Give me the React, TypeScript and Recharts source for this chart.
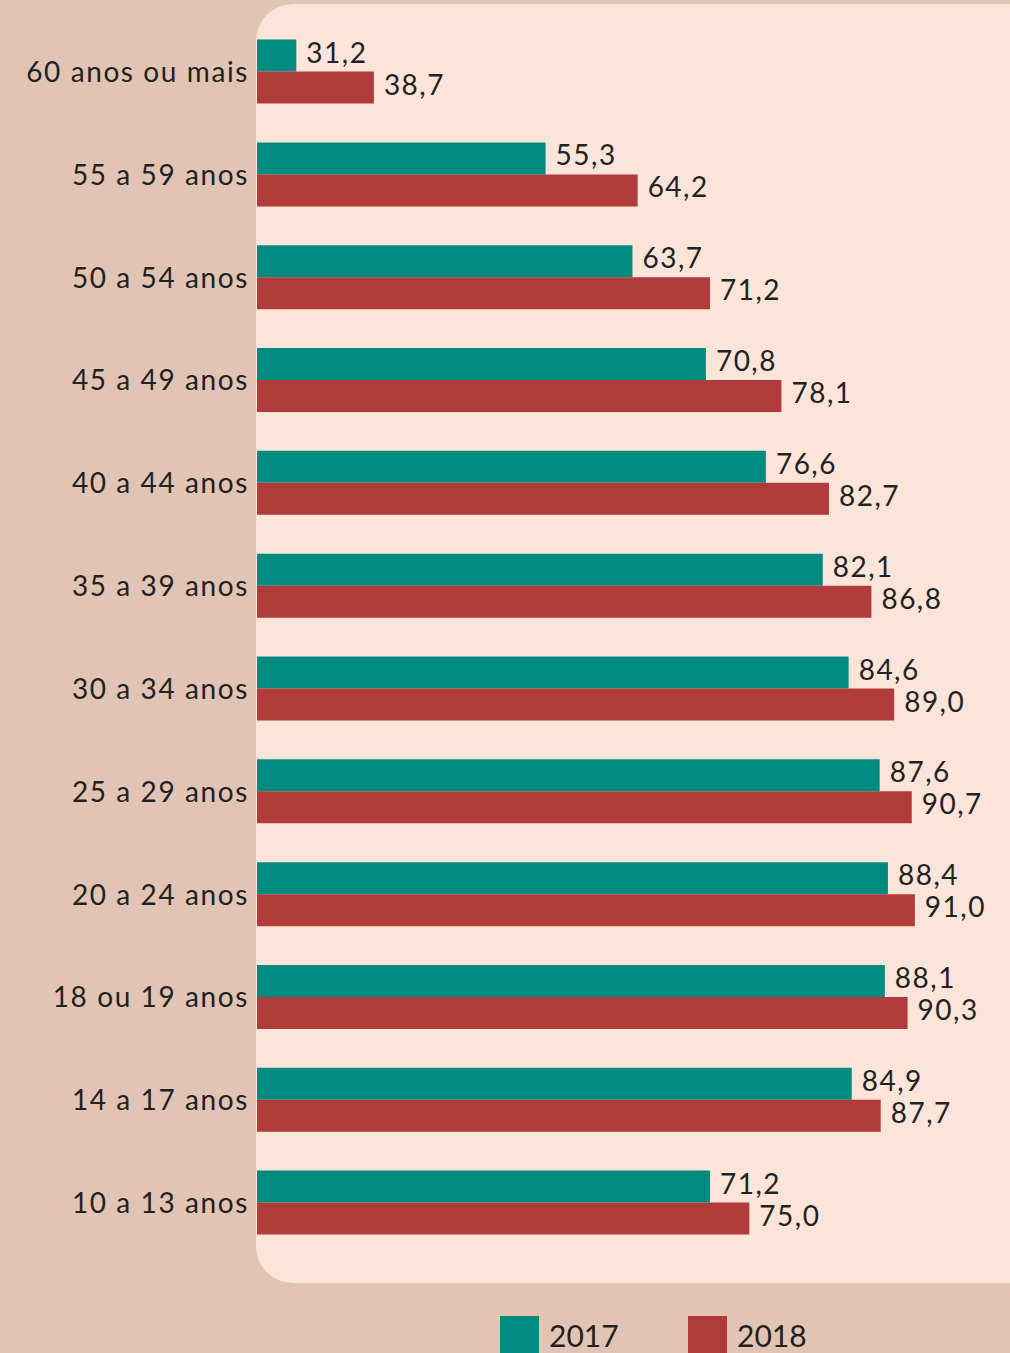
import React from "react";
import { BarChart, Bar, XAxis, YAxis, LabelList } from "recharts";

const faixas = [
  "60 anos ou mais",
  "55 a 59 anos",
  "50 a 54 anos",
  "45 a 49 anos",
  "40 a 44 anos",
  "35 a 39 anos",
  "30 a 34 anos",
  "25 a 29 anos",
  "20 a 24 anos",
  "18 ou 19 anos",
  "14 a 17 anos",
  "10 a 13 anos",
];
const valores2017 = [31.2, 55.3, 63.7, 70.8, 76.6, 82.1, 84.6, 87.6, 88.4, 88.1, 84.9, 71.2];
const valores2018 = [38.7, 64.2, 71.2, 78.1, 82.7, 86.8, 89.0, 90.7, 91.0, 90.3, 87.7, 75.0];
const anos = ["2017", "2018"];

const TEAL = "#008b80";
const RED = "#b03b3a";
const FONT = "Lato, 'Noto Sans', sans-serif";

const data = faixas.map((faixa, i) => ({
  faixa,
  a2017: valores2017[i],
  a2018: valores2018[i],
}));

const fmt = (v: number) => v.toFixed(1).replace(".", ",");

// rótulo de valor à direita da barra
function ValueLabel(props: any) {
  const { x, y, width, value } = props;
  return (
    <text
      x={Number(x) + Number(width) + 10}
      y={Number(y) + 23}
      fontSize={28}
      fontFamily={FONT}
      letterSpacing={1.5}
      fill="#222"
    >
      {fmt(Number(value))}
    </text>
  );
}

function FaixaTick(props: any) {
  const { y, payload } = props;
  return (
    <text
      x={249}
      y={y + 10}
      textAnchor="end"
      fontSize={28}
      fontFamily={FONT}
      letterSpacing={1.6}
      fill="#222"
    >
      {payload.value}
    </text>
  );
}

export default function App() {
  return (
    <div
      style={{
        position: "absolute",
        top: 0,
        left: 0,
        width: 1010,
        height: 1353,
        background: "#e1c4b4",
        overflow: "hidden",
      }}
    >
      <div
        style={{
          position: "absolute",
          left: 256,
          top: 4,
          width: 800,
          height: 1279,
          background: "#fde4d9",
          borderRadius: "37px 0 0 37px",
        }}
      />
      <div style={{ position: "absolute", top: 0, left: 0 }}>
        <BarChart
          width={1010}
          height={1353}
          data={data}
          layout="vertical"
          margin={{ top: 20.6, right: 0, left: 0, bottom: 98.6 }}
          barGap={0}
          barSize={32}
        >
          <XAxis type="number" hide domain={[27.4, 100.2]} allowDataOverflow />
          <YAxis
            type="category"
            dataKey="faixa"
            width={257}
            axisLine={false}
            tickLine={false}
            tick={<FaixaTick />}
            interval={0}
          />
          <Bar dataKey="a2017" fill={TEAL} isAnimationActive={false}>
            <LabelList dataKey="a2017" content={<ValueLabel />} />
          </Bar>
          <Bar dataKey="a2018" fill={RED} isAnimationActive={false}>
            <LabelList dataKey="a2018" content={<ValueLabel />} />
          </Bar>
        </BarChart>
      </div>
      {anos.map((ano, i) => (
        <div
          key={ano}
          style={{
            position: "absolute",
            left: 500 + i * 188,
            top: 1316,
            display: "flex",
            alignItems: "flex-start",
          }}
        >
          <div
            style={{
              width: 39,
              height: 37,
              background: i === 0 ? TEAL : RED,
            }}
          />
          <div
            style={{
              marginLeft: 10,
              fontFamily: FONT,
              fontSize: 30,
              color: "#222",
              lineHeight: "30px",
              marginTop: 4,
            }}
          >
            {ano}
          </div>
        </div>
      ))}
    </div>
  );
}
